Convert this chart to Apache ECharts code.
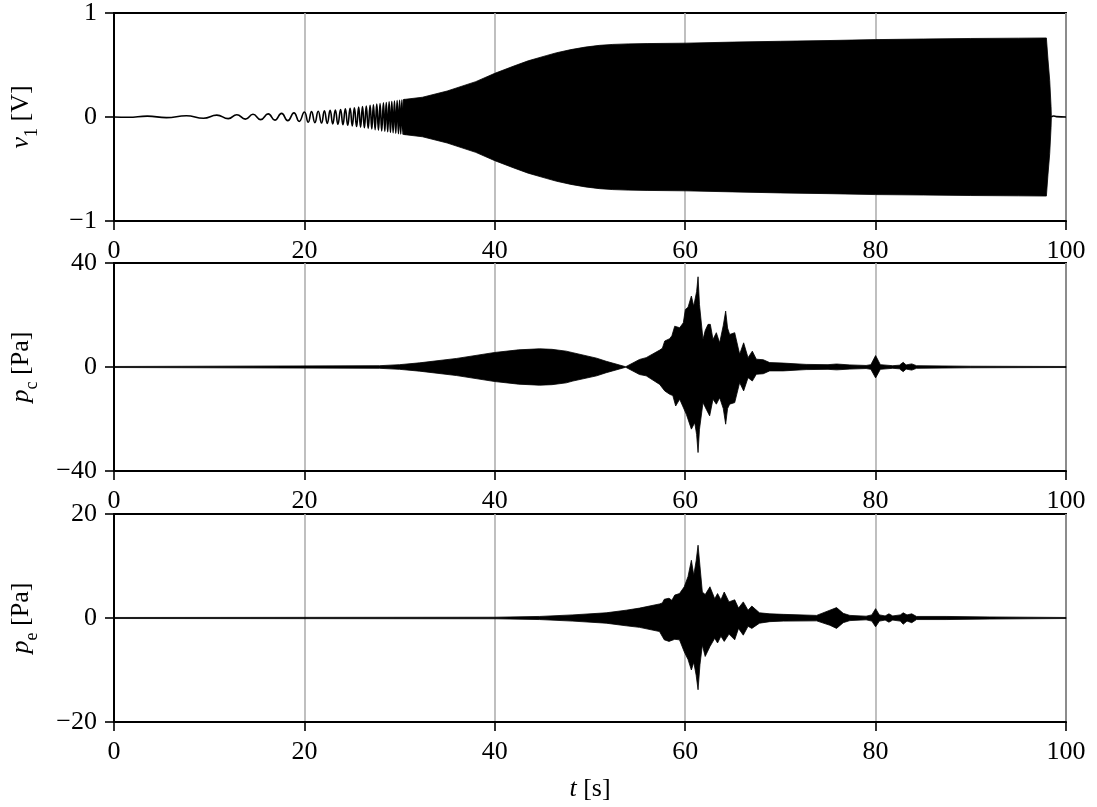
<!DOCTYPE html>
<html><head><meta charset="utf-8">
<script src="https://cdn.jsdelivr.net/npm/echarts@6.0.0/dist/echarts.min.js"></script>
<style>html,body{margin:0;padding:0;background:#fff}#c{width:1097px;height:807px}</style>
</head><body><div id="c"></div>
<script>
// ---------- tick labels / axes ----------
const tTicks = [0, 20, 40, 60, 80, 100];
const v1Ticks = [-1, 0, 1];
const pcTicks = [-40, 0, 40];
const peTicks = [-20, 0, 20];

// ---------- panel 1: v1 [V] ----------
// early chirp: turning points
const v1ChirpT = [0, 1.5, 3.5, 5.5, 7.6, 9.4, 10.8, 12.0, 12.9, 13.8, 14.6, 15.4, 16.2, 16.9, 17.6, 18.25, 18.9, 19.45, 20.0, 20.4, 20.75, 21.1, 21.45, 21.8, 22.1, 22.4, 22.7, 22.98, 23.25, 23.52, 23.8, 24.05, 24.3, 24.55, 24.8, 25.03, 25.25, 25.48, 25.7, 25.9, 26.1, 26.3, 26.5, 26.7, 26.9, 27.08, 27.25, 27.43, 27.6, 27.78, 27.95, 28.12, 28.3, 28.45, 28.6, 28.75, 28.9, 29.04, 29.18, 29.32, 29.46, 29.6, 29.74, 29.88, 30.0, 30.12, 30.24, 30.36, 30.48, 30.6];
const v1ChirpV = [0, -0.003, 0.008, -0.006, 0.012, -0.012, 0.018, -0.016, 0.022, -0.02, 0.026, -0.025, 0.03, -0.03, 0.035, -0.035, 0.04, -0.042, 0.048, -0.05, 0.052, -0.054, 0.056, -0.058, 0.06, -0.062, 0.064, -0.066, 0.068, -0.07, 0.072, -0.075, 0.078, -0.08, 0.083, -0.086, 0.089, -0.092, 0.095, -0.098, 0.1, -0.103, 0.106, -0.109, 0.112, -0.115, 0.118, -0.121, 0.124, -0.127, 0.13, -0.133, 0.136, -0.138, 0.14, -0.142, 0.145, -0.147, 0.149, -0.151, 0.153, -0.155, 0.157, -0.159, 0.16, -0.162, 0.164, -0.166, 0.168, -0.17];
// dense part: envelope
const v1UpT = [30.4, 32.4, 35, 38, 40, 42, 43.5, 45.4, 46.5, 48, 49.5, 51, 52.4, 54, 56, 60, 65, 70, 75, 80, 85, 90, 95, 97.94, 98.11, 98.29, 98.43, 98.46];
const v1UpV = [0.168, 0.19, 0.25, 0.34, 0.42, 0.49, 0.54, 0.59, 0.618, 0.648, 0.672, 0.689, 0.698, 0.703, 0.706, 0.71, 0.72, 0.728, 0.735, 0.744, 0.75, 0.755, 0.758, 0.76, 0.55, 0.35, 0.10, 0.01];
const v1LoT = [30.4, 32.4, 35, 38, 40, 42, 43.5, 45.4, 46.5, 48, 49.5, 51, 52.4, 54, 56, 60, 65, 70, 75, 80, 85, 90, 95, 97.94, 98.11, 98.29, 98.43, 98.46];
const v1LoV = [-0.168, -0.19, -0.25, -0.34, -0.42, -0.49, -0.54, -0.59, -0.618, -0.648, -0.672, -0.689, -0.698, -0.703, -0.706, -0.71, -0.72, -0.73, -0.737, -0.746, -0.75, -0.755, -0.758, -0.76, -0.55, -0.35, -0.10, -0.01];
const v1TailT = [98.46, 98.7, 99.0, 100];
const v1TailV = [0, 0.01, 0.004, 0];

// ---------- panel 2: p_c [Pa] ----------
const pcUpT = [0, 27.9, 30, 32.1, 36, 40, 42.5, 44.7, 46, 47.5, 48.2, 50.7, 51.7, 53.75, 55.2, 55.9, 57.32, 57.6, 57.85, 58.37, 58.6, 58.9, 59.42, 59.8, 60.02, 60.3, 60.65, 60.89, 61.2, 61.35, 61.5, 61.87, 62.1, 62.4, 62.64, 62.92, 63.27, 63.62, 64.0, 64.25, 64.45, 64.67, 65.2, 65.72, 66.14, 66.6, 67.05, 67.47, 68.2, 68.87, 70.3, 72.7, 75.0, 75.9, 77.3, 79.0, 79.5, 80.0, 80.5, 81.8, 82.5, 82.9, 83.2, 83.5, 83.8, 84.3, 90, 100];
const pcUpV = [0.2, 0.5, 0.9, 1.6, 3.3, 5.6, 6.6, 7.0, 6.8, 6.1, 5.5, 3.4, 2.2, 0.1, 2.9, 3.6, 6.5, 7.2, 10.0, 10.9, 12, 15.7, 15.1, 17, 22.1, 23, 27.3, 23.4, 29, 34.7, 24, 10.6, 14, 16.4, 16.4, 10.6, 13.2, 9.3, 16, 21.5, 15, 12.5, 13.2, 4.9, 9.3, 3.6, 6.1, 3.0, 2.8, 1.7, 1.5, 1.0, 0.9, 1.15, 0.8, 0.6, 0.9, 4.4, 0.9, 0.5, 0.7, 1.8, 0.8, 1.0, 1.2, 0.5, 0.3, 0.2];
const pcLoT = [0, 27.9, 30, 32.1, 36, 40, 42.5, 44.7, 46, 47.5, 48.2, 50.7, 51.7, 53.75, 55.2, 55.9, 57.32, 57.85, 58.37, 58.7, 59.0, 59.42, 60.12, 60.65, 61.0, 61.2, 61.35, 61.5, 61.87, 62.22, 62.57, 62.92, 63.27, 63.62, 64.0, 64.25, 64.45, 64.67, 65.2, 65.72, 66.14, 66.6, 67.05, 67.47, 68.2, 68.87, 70.3, 72.7, 75.0, 75.9, 77.3, 79.0, 79.5, 80.0, 80.5, 81.8, 82.5, 82.9, 83.2, 83.5, 83.8, 84.3, 90, 100];
const pcLoV = [-0.2, -0.5, -0.9, -1.6, -3.3, -5.6, -6.6, -7.0, -6.8, -6.1, -5.4, -3.4, -2.2, -0.1, -2.9, -3.4, -6.7, -9.2, -10.5, -11, -15.0, -12.4, -18.2, -23.9, -21.4, -26, -32.9, -24, -13.7, -16.3, -18.8, -12.4, -14.3, -11.8, -16, -22.0, -16, -14.3, -13.7, -6.0, -9.2, -4.1, -5.4, -2.8, -2.6, -1.5, -1.5, -1.0, -0.9, -1.1, -0.8, -0.6, -0.9, -4.2, -0.9, -0.5, -0.7, -1.8, -0.8, -1.0, -1.2, -0.5, -0.3, -0.2];

// ---------- panel 3: p_e [Pa] ----------
const peUpT = [0, 40, 44.7, 48.2, 51.7, 53.8, 55.2, 57.3, 57.6, 57.8, 58.3, 58.6, 58.9, 59.4, 59.9, 60.3, 60.65, 60.9, 61.15, 61.35, 61.55, 61.8, 62.1, 62.6, 63.1, 63.4, 63.75, 64.1, 64.6, 65.2, 65.6, 66.1, 66.6, 67.0, 67.8, 68.9, 70.3, 73.8, 75.2, 75.9, 76.6, 77.3, 79.0, 79.6, 80.0, 80.4, 81.0, 81.4, 81.8, 82.6, 82.9, 83.3, 83.8, 84.3, 87.4, 92, 100];
const peUpV = [0.1, 0.15, 0.3, 0.6, 1.0, 1.5, 1.9, 2.7, 2.9, 3.6, 3.8, 3.4, 4.4, 4.7, 6.0, 8, 11.1, 8.2, 11, 14.0, 10, 5.0, 4.5, 6.0, 3.7, 4.7, 3.5, 5.0, 3.1, 3.5, 1.9, 3.1, 1.5, 2.3, 1.0, 0.8, 0.7, 0.5, 1.5, 2.0, 0.9, 0.5, 0.35, 0.6, 1.8, 0.6, 0.4, 0.8, 0.4, 0.6, 1.0, 0.6, 0.8, 0.3, 0.3, 0.2, 0.1];
const peLoT = [0, 40, 44.7, 48.2, 51.7, 53.8, 55.2, 57.3, 57.8, 58.3, 58.9, 59.4, 59.9, 60.3, 60.65, 60.9, 61.15, 61.35, 61.55, 61.8, 62.1, 62.6, 63.1, 63.4, 63.75, 64.1, 64.6, 65.2, 65.6, 66.1, 66.6, 67.0, 67.8, 68.9, 70.3, 73.8, 75.2, 75.9, 76.6, 77.3, 79.0, 79.6, 80.0, 80.4, 81.0, 81.4, 81.8, 82.6, 82.9, 83.3, 83.8, 84.3, 87.4, 92, 100];
const peLoV = [-0.1, -0.15, -0.3, -0.6, -1.0, -1.5, -1.8, -2.6, -4.2, -4.5, -4.1, -4.2, -6.5, -8, -10, -8.5, -11, -13.8, -9, -5.2, -7.4, -5.5, -3.9, -4.8, -3.5, -4.5, -3.1, -4.2, -2.0, -3.3, -1.6, -2.0, -1.0, -0.7, -0.6, -0.55, -1.4, -2.0, -0.9, -0.5, -0.35, -0.6, -1.7, -0.6, -0.4, -0.8, -0.4, -0.6, -1.2, -0.6, -0.9, -0.3, -0.3, -0.2, -0.1];

// ---------- build ----------
const FONT = 'Liberation Serif';
const pairs = (xs, ys) => xs.map((x, i) => [x, ys[i]]);
const minusFmt = v => (v < 0 ? '\u2212' + (-v) : String(v));

function envelope(idx, upT, upV, loT, loV) {
  return {
    type: 'custom', xAxisIndex: idx, yAxisIndex: idx, silent: true, z: 3,
    data: [[50, 0]],
    renderItem: function (params, api) {
      const pts = [];
      for (let i = 0; i < upT.length; i++) pts.push(api.coord([upT[i], upV[i]]));
      for (let i = loT.length - 1; i >= 0; i--) pts.push(api.coord([loT[i], loV[i]]));
      return { type: 'polygon', shape: { points: pts }, style: { fill: '#000', stroke: '#000', lineWidth: 0.8 } };
    }
  };
}

const richName = {
  i: { fontFamily: FONT, fontStyle: 'italic', fontSize: 26, color: '#000', lineHeight: 40, verticalAlign: 'middle' },
  s: { fontFamily: FONT, fontSize: 18, color: '#000', lineHeight: 26, verticalAlign: 'bottom' },
  n: { fontFamily: FONT, fontSize: 26, color: '#000', lineHeight: 40, verticalAlign: 'middle' }
};

const grids = [
  { left: 114, right: 31, top: 13, height: 208 },
  { left: 114, right: 31, top: 263, height: 208 },
  { left: 114, right: 31, top: 514, height: 208 }
].map(g => Object.assign(g, { show: true, borderColor: '#000', borderWidth: 2, backgroundColor: 'transparent' }));

function xAxis(idx, withName) {
  const a = {
    type: 'value', gridIndex: idx, min: tTicks[0], max: tTicks[tTicks.length - 1], interval: tTicks[1] - tTicks[0],
    axisLine: { show: true, onZero: false, lineStyle: { color: '#000', width: 2 } },
    axisTick: { show: true, length: 9, lineStyle: { color: '#000', width: 1.6 } },
    axisLabel: { show: true, margin: 17, color: '#000', fontFamily: FONT, fontSize: 26 },
    splitLine: { show: true, lineStyle: { color: '#b0b0b0', width: 1.6 } }
  };
  if (withName) {
    a.name = '{i|t}{n| [s]}';
    a.nameLocation = 'middle';
    a.nameGap = 47;
    a.nameTextStyle = { rich: richName };
  }
  return a;
}
function yAxis(idx, ticks, name) {
  return {
    type: 'value', gridIndex: idx, min: ticks[0], max: ticks[ticks.length - 1], interval: ticks[1] - ticks[0],
    axisLine: { show: true, onZero: false, lineStyle: { color: '#000', width: 2 } },
    axisTick: { show: true, length: 9, lineStyle: { color: '#000', width: 1.6 } },
    axisLabel: { show: true, margin: 17, color: '#000', fontFamily: FONT, fontSize: 26, formatter: minusFmt },
    splitLine: { show: false },
    name: name, nameLocation: 'middle', nameGap: 73,
    nameTextStyle: { rich: richName }
  };
}

const option = {
  backgroundColor: '#fff',
  animation: false,
  grid: grids,
  xAxis: [xAxis(0, false), xAxis(1, false), xAxis(2, true)],
  yAxis: [
    yAxis(0, v1Ticks, '{i|v}{s|1}{n| [V]}'),
    yAxis(1, pcTicks, '{i|p}{s|c}{n| [Pa]}'),
    yAxis(2, peTicks, '{i|p}{s|e}{n| [Pa]}')
  ],
  series: [
    envelope(0, v1UpT, v1UpV, v1LoT, v1LoV),
    { type: 'line', xAxisIndex: 0, yAxisIndex: 0, data: pairs(v1ChirpT, v1ChirpV), showSymbol: false, smooth: 0.5,
      lineStyle: { color: '#000', width: 1.6 }, silent: true, z: 4 },
    { type: 'line', xAxisIndex: 0, yAxisIndex: 0, data: pairs(v1TailT, v1TailV), showSymbol: false, smooth: 0.5,
      lineStyle: { color: '#000', width: 1.6 }, silent: true, z: 4 },
    envelope(1, pcUpT, pcUpV, pcLoT, pcLoV),
    envelope(2, peUpT, peUpV, peLoT, peLoV)
  ]
};

const chart = echarts.init(document.getElementById('c'), null, { renderer: 'canvas' });
chart.setOption(option);
</script></body></html>
